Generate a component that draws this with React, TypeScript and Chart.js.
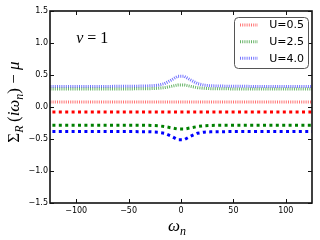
import { useEffect, useRef } from "react";
import { Chart, registerables } from "chart.js";
Chart.register(...registerables);

const omega = [
  -128.81, -122.52, -116.24, -109.96, -103.67, -97.39, -91.11, -84.82, -78.54, -72.26, -65.97,
  -59.69, -53.41, -47.12, -40.84, -34.56, -28.27, -21.99, -15.71, -9.42, -3.14,
  3.14, 9.42, 15.71, 21.99, 28.27, 34.56, 40.84, 47.12, 53.41, 59.69,
  65.97, 72.26, 78.54, 84.82, 91.11, 97.39, 103.67, 109.96, 116.24, 122.52, 128.81,
];

const redUp = [
  0.077, 0.077, 0.077, 0.077, 0.077, 0.077, 0.077, 0.077, 0.077, 0.077, 0.077,
  0.077, 0.077, 0.077, 0.077, 0.077, 0.077, 0.077, 0.078, 0.079, 0.08,
  0.08, 0.079, 0.078, 0.077, 0.077, 0.077, 0.077, 0.077, 0.077, 0.077,
  0.077, 0.077, 0.077, 0.077, 0.077, 0.077, 0.077, 0.077, 0.077, 0.077, 0.077,
];
const greenUp = [
  0.28, 0.28, 0.28, 0.28, 0.28, 0.28, 0.28, 0.28, 0.28, 0.28, 0.281,
  0.281, 0.282, 0.283, 0.284, 0.285, 0.287, 0.292, 0.302, 0.322, 0.345,
  0.345, 0.322, 0.302, 0.292, 0.287, 0.285, 0.284, 0.283, 0.282, 0.281,
  0.281, 0.28, 0.28, 0.28, 0.28, 0.28, 0.28, 0.28, 0.28, 0.28, 0.28,
];
const blueUp = [
  0.32, 0.32, 0.32, 0.32, 0.32, 0.32, 0.32, 0.32, 0.322, 0.322, 0.322,
  0.324, 0.324, 0.325, 0.326, 0.328, 0.332, 0.34, 0.365, 0.42, 0.48,
  0.48, 0.42, 0.365, 0.34, 0.332, 0.328, 0.326, 0.325, 0.324, 0.324,
  0.322, 0.322, 0.322, 0.32, 0.32, 0.32, 0.32, 0.32, 0.32, 0.32, 0.32,
];
const redLo = [
  -0.077, -0.077, -0.077, -0.077, -0.077, -0.077, -0.077, -0.077, -0.077, -0.077, -0.077,
  -0.077, -0.077, -0.077, -0.077, -0.077, -0.077, -0.077, -0.078, -0.079, -0.08,
  -0.08, -0.079, -0.078, -0.077, -0.077, -0.077, -0.077, -0.077, -0.077, -0.077,
  -0.077, -0.077, -0.077, -0.077, -0.077, -0.077, -0.077, -0.077, -0.077, -0.077, -0.077,
];
const greenLo = [
  -0.284, -0.284, -0.284, -0.284, -0.284, -0.284, -0.284, -0.284, -0.284, -0.284, -0.284,
  -0.285, -0.285, -0.285, -0.285, -0.286, -0.288, -0.293, -0.305, -0.325, -0.345,
  -0.345, -0.325, -0.305, -0.293, -0.288, -0.286, -0.285, -0.285, -0.285, -0.285,
  -0.284, -0.284, -0.284, -0.284, -0.284, -0.284, -0.284, -0.284, -0.284, -0.284, -0.284,
];
const blueLo = [
  -0.382, -0.382, -0.382, -0.382, -0.382, -0.382, -0.382, -0.382, -0.382, -0.382, -0.383,
  -0.383, -0.384, -0.384, -0.385, -0.386, -0.388, -0.393, -0.41, -0.455, -0.51,
  -0.51, -0.455, -0.41, -0.393, -0.388, -0.386, -0.385, -0.384, -0.384, -0.383,
  -0.383, -0.382, -0.382, -0.382, -0.382, -0.382, -0.382, -0.382, -0.382, -0.382, -0.382,
];

const legendLabels = ["U=0.5", "U=2.5", "U=4.0"];
const xTicks = [-100, -50, 0, 50, 100];
const yTicks = [-1.5, -1.0, -0.5, 0.0, 0.5, 1.0, 1.5];

const lightColors = ["rgba(255,0,0,0.55)", "rgba(0,128,0,0.6)", "rgba(0,0,255,0.55)"];
const darkColors = ["#ff0000", "#008000", "#0000ff"];
const upDash = [1, 1.2];
const loDash = [3, 3.4];

type Run = { t: string; it?: boolean; sub?: boolean };
const SERIF = "'Liberation Serif', 'DejaVu Serif', serif";

function runFont(r: Run, size: number) {
  const s = r.sub ? Math.round(size * 0.7) : size;
  return `${r.it ? "italic " : ""}${s}px ${SERIF}`;
}
function measureRuns(ctx: CanvasRenderingContext2D, runs: Run[], size: number) {
  let w = 0;
  for (const r of runs) {
    ctx.font = runFont(r, size);
    w += ctx.measureText(r.t).width;
  }
  return w;
}
function drawRuns(ctx: CanvasRenderingContext2D, runs: Run[], x: number, y: number, size: number) {
  let cx = x;
  ctx.textAlign = "left";
  ctx.textBaseline = "alphabetic";
  for (const r of runs) {
    ctx.font = runFont(r, size);
    ctx.fillText(r.t, cx, y + (r.sub ? size * 0.25 : 0));
    cx += ctx.measureText(r.t).width;
  }
}

const yLabelRuns: Run[] = [
  { t: "Σ" }, { t: "R", it: true, sub: true }, { t: "\u2009(" }, { t: "i", it: true }, { t: "ω", it: true },
  { t: "n", it: true, sub: true }, { t: ")" }, { t: " − " }, { t: "μ", it: true },
];
const xLabelRuns: Run[] = [{ t: "ω", it: true }, { t: "n", it: true, sub: true }];
const nuRuns: Run[] = [{ t: "ν", it: true }, { t: " = " }, { t: "1" }];

const decor = {
  id: "decor",
  afterDraw(chart: any) {
    const ctx: CanvasRenderingContext2D = chart.ctx;
    const { left, right, top, bottom } = chart.chartArea;
    const xs = chart.scales.x;
    const ys = chart.scales.y;
    ctx.save();
    // frame
    ctx.strokeStyle = "#111";
    ctx.lineWidth = 1.6;
    ctx.strokeRect(left, top, right - left, bottom - top);
    // inward ticks
    ctx.lineWidth = 1;
    ctx.beginPath();
    for (const v of xTicks) {
      const px = Math.round(xs.getPixelForValue(v)) + 0.5;
      ctx.moveTo(px, bottom);
      ctx.lineTo(px, bottom - 4);
      ctx.moveTo(px, top);
      ctx.lineTo(px, top + 4);
    }
    for (const v of yTicks) {
      const py = Math.round(ys.getPixelForValue(v)) + 0.5;
      ctx.moveTo(left, py);
      ctx.lineTo(left + 4, py);
      ctx.moveTo(right, py);
      ctx.lineTo(right - 4, py);
    }
    ctx.stroke();

    // annotation
    ctx.fillStyle = "#000";
    drawRuns(ctx, nuRuns, xs.getPixelForValue(-100), ys.getPixelForValue(1.0), 16);

    // x label
    const wx = measureRuns(ctx, xLabelRuns, 17);
    drawRuns(ctx, xLabelRuns, (left + right) / 2 - wx / 2 - 4, 231, 17);

    // y label
    const wy = measureRuns(ctx, yLabelRuns, 17);
    ctx.save();
    ctx.translate(19, 102);
    ctx.rotate(-Math.PI / 2);
    drawRuns(ctx, yLabelRuns, -wy / 2, 0, 17);
    ctx.restore();

    // legend
    const bx = 234, by = 17, bw = 74, bh = 51;
    ctx.beginPath();
    ctx.roundRect(bx + 0.5, by + 0.5, bw, bh, 4);
    ctx.fillStyle = "#fff";
    ctx.fill();
    ctx.strokeStyle = "#555";
    ctx.lineWidth = 1;
    ctx.stroke();
    const rows = [25, 41.7, 58.3];
    legendLabels.forEach((lab, i) => {
      const y = rows[i];
      ctx.beginPath();
      ctx.setLineDash(upDash);
      ctx.strokeStyle = lightColors[i];
      ctx.lineWidth = 3;
      ctx.moveTo(240, y);
      ctx.lineTo(258, y);
      ctx.stroke();
      ctx.setLineDash([]);
      ctx.fillStyle = "#000";
      ctx.font = "11px 'DejaVu Sans', sans-serif";
      ctx.textAlign = "right";
      ctx.textBaseline = "middle";
      ctx.fillText(lab, 304, y + 0.5);
    });
    ctx.restore();
  },
};

export default function App() {
  const ref = useRef<HTMLCanvasElement>(null);
  useEffect(() => {
    const canvas = ref.current!;
    const mk = (ys: number[]) => omega.map((x, i) => ({ x, y: ys[i] }));
    const upSeries = [redUp, greenUp, blueUp];
    const loSeries = [redLo, greenLo, blueLo];
    const datasets: any[] = [];
    loSeries.forEach((s, i) =>
      datasets.push({
        label: "",
        data: mk(s),
        borderColor: darkColors[i],
        borderWidth: 3,
        borderDash: loDash,
        pointRadius: 0,
        fill: false,
        clip: 0,
      })
    );
    upSeries.forEach((s, i) =>
      datasets.push({
        label: legendLabels[i],
        data: mk(s),
        borderColor: lightColors[i],
        borderWidth: 3,
        borderDash: upDash,
        pointRadius: 0,
        fill: false,
        clip: 0,
      })
    );
    const tickFont = { family: "'DejaVu Sans', sans-serif", size: 8 };
    const chart = new Chart(canvas, {
      type: "line",
      data: { datasets },
      options: {
        responsive: false,
        animation: false,
        layout: { padding: { top: 11, right: 8, left: 0, bottom: 0 } },
        plugins: { legend: { display: false }, tooltip: { enabled: false } },
        elements: { line: { tension: 0 }, point: { radius: 0 } },
        scales: {
          x: {
            type: "linear",
            min: -125,
            max: 125,
            grid: { display: false, drawTicks: false },
            border: { display: false },
            afterBuildTicks: (s: any) => {
              s.ticks = xTicks.map((v) => ({ value: v }));
            },
            afterFit: (s: any) => {
              s.height = 37;
            },
            ticks: {
              font: tickFont,
              color: "#000",
              padding: 3,
              maxRotation: 0,
              callback: (v: any) => String(v).replace("-", "−"),
            },
          },
          y: {
            type: "linear",
            min: -1.5,
            max: 1.5,
            grid: { display: false, drawTicks: false },
            border: { display: false },
            afterBuildTicks: (s: any) => {
              s.ticks = yTicks.map((v) => ({ value: v }));
            },
            afterFit: (s: any) => {
              s.width = 50;
            },
            ticks: {
              font: tickFont,
              color: "#000",
              padding: 2,
              callback: (v: any) => Number(v).toFixed(1).replace("-", "−"),
            },
          },
        },
      } as any,
      plugins: [decor],
    });
    return () => chart.destroy();
  }, []);
  return (
    <canvas
      ref={ref}
      width={320}
      height={240}
      style={{ position: "fixed", left: 0, top: 0, width: 320, height: 240, display: "block" }}
    />
  );
}
